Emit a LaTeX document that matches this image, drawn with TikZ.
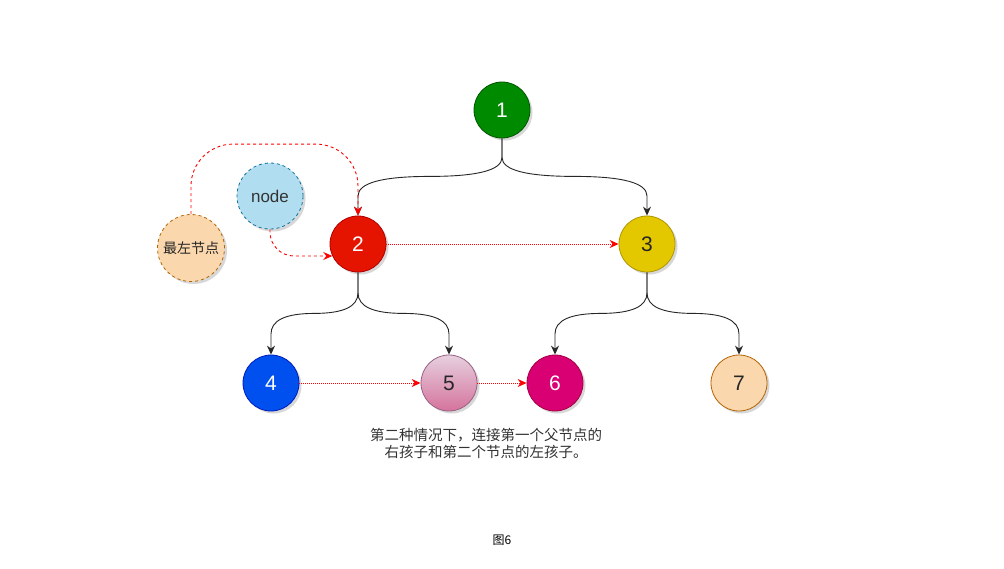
\documentclass[tikz,border=0pt]{standalone}
\usepackage{fontspec}
\setmainfont{Liberation Sans}
\newfontfamily\cjk{Noto Sans CJK SC}
\usetikzlibrary{shadows,arrows.meta,calc}
\definecolor{gF}{HTML}{008A00}\definecolor{gS}{HTML}{005700}
\definecolor{rF}{HTML}{E51400}\definecolor{rS}{HTML}{B20000}
\definecolor{yF}{HTML}{E3C800}\definecolor{yS}{HTML}{B09500}
\definecolor{bF}{HTML}{0050EF}\definecolor{bS}{HTML}{001DBC}
\definecolor{pT}{HTML}{E6D0DE}\definecolor{pB}{HTML}{D5739D}\definecolor{pS}{HTML}{996185}
\definecolor{mF}{HTML}{D80073}\definecolor{mS}{HTML}{A50040}
\definecolor{oF}{HTML}{FAD7AC}\definecolor{oS}{HTML}{B46504}
\definecolor{cF}{HTML}{B1DDF0}\definecolor{cS}{HTML}{10739E}
\definecolor{txt}{HTML}{333333}
% curved orthogonal edge: parent, child, drop to the middle line
\newcommand\cedge[3]{%
  \path (#1.south) ++(0,#3) coordinate (c1);
  \path (#2.north |- c1) coordinate (c2);
  \path ($(#1.south)!.5!(c1)$) coordinate (qa);
  \path ($(c1)!.5!(c2)$) coordinate (qm);
  \path ($(c2)!.5!(#2.north)$) coordinate (qb);
  \draw[tree] (#1.south) -- (qa)
    .. controls ($(qa)!2/3!(c1)$) and ($(qm)!2/3!(c1)$) .. (qm)
    .. controls ($(qm)!2/3!(c2)$) and ($(qb)!2/3!(c2)$) .. (qb) -- (#2.north);
}
\begin{document}
\begin{tikzpicture}[x=1pt,y=-1pt,
  nd/.style={circle,minimum size=56pt,inner sep=0pt,line width=0.8pt,
    font=\fontsize{21}{24}\selectfont,
    drop shadow={shadow xshift=2.5pt,shadow yshift=-2.5pt,opacity=0.22,fill=black!70}},
  tree/.style={draw=black!85,line width=0.9pt,
    -{Stealth[length=9pt,width=8pt,inset=3pt]}},
  link/.style={draw=red,line width=1pt,dash pattern=on 1pt off 1pt,
    -{Stealth[length=9pt,width=8pt,inset=3pt]}},
  dlink/.style={draw=red,line width=0.9pt,dash pattern=on 3pt off 3pt,
    -{Stealth[length=9pt,width=8pt,inset=3pt]}}]
\useasboundingbox[fill=white] (0,0) rectangle (1004,568);

\node[nd,fill=gF,draw=gS,text=white] (n1) at (502,110) {1};
\node[nd,fill=rF,draw=rS,text=white] (n2) at (358,244) {2};
\node[nd,fill=yF,draw=yS,text=black!85] (n3) at (647,244) {3};
\node[nd,fill=bF,draw=bS,text=white] (n4) at (271,383) {4};
\node[nd,top color=pT,bottom color=pB,draw=pS,text=black!85] (n5) at (449,383) {5};
\node[nd,fill=mF,draw=mS,text=white] (n6) at (555,383) {6};
\node[nd,fill=oF,draw=oS,text=black!85] (n7) at (739,383) {7};

\node[nd,minimum size=66pt,fill=cF,draw=cS,dashed,text=txt,
  font=\fontsize{17}{20}\selectfont] (nd) at (270,196) {node};
\node[nd,minimum size=67pt,fill=oF,draw=oS,dashed,text=black!85,
  font=\cjk\fontsize{14}{16}\selectfont] (lm) at (191,248) {最左节点};

\cedge{n1}{n2}{38}
\cedge{n1}{n3}{38}
\cedge{n2}{n4}{41}
\cedge{n2}{n5}{41}
\cedge{n3}{n6}{41}
\cedge{n3}{n7}{41}

\draw[link] (n2) -- (n3);
\draw[link] (n4) -- (n5);
\draw[link] (n5) -- (n6);

\draw[dlink,rounded corners=42pt] (lm.north) -- ++(0,-70) -| (n2.north);
\draw[dlink,rounded corners=24pt] (nd.south) |- (n2.205);

\node[font=\cjk\fontsize{14.5}{17}\selectfont,text=txt,align=center] (lbl) at (486,443)
  {第二种情况下，连接第一个父节点的\\右孩子和第二个节点的左孩子。};
\node[font=\cjk\fontsize{12}{14}\selectfont] (cap) at (502,540) {图6};
\end{tikzpicture}
\end{document}
